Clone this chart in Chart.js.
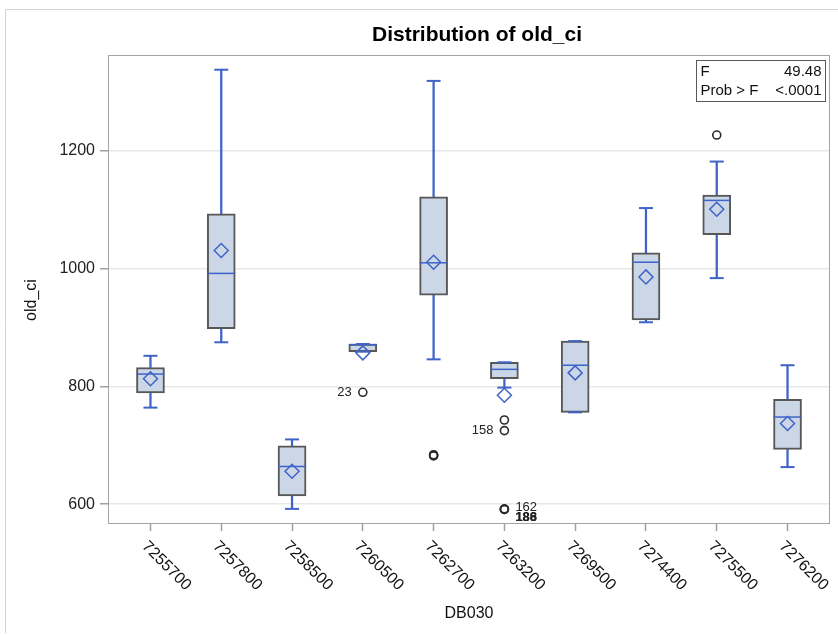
<!DOCTYPE html>
<html>
<head>
<meta charset="utf-8">
<title>Distribution of old_ci</title>
<script src="https://cdn.jsdelivr.net/npm/chart.js@4/dist/chart.umd.min.js"></script>
<style>
  html, body { margin: 0; padding: 0; background: #ffffff; }
  #wrap { position: relative; width: 838px; height: 635px; }
</style>
</head>
<body>
<div id="wrap"><canvas id="chart" width="838" height="635"></canvas></div>
<script>
// DB030 groups and the five-number summaries of old_ci per group
const categories  = ['7255700', '7257800', '7258500', '7260500', '7262700', '7263200', '7269500', '7274400', '7275500', '7276200'];
const whiskerLow  = [764, 875, 592, 859, 846, 798, 756, 909, 984, 663];
const q1          = [789, 898, 614, 859, 955, 813, 756, 913, 1058, 693];
const median      = [821, 992, 664, 871, 1010, 829, 836, 1011, 1116, 748];
const q3          = [832, 1093, 699, 872, 1122, 841, 877, 1027, 1125, 778];
const whiskerHigh = [852, 1338, 710, 872, 1319, 841, 877, 1103, 1182, 836];
const means       = [813, 1031, 656, 857, 1011, 785, 823, 986, 1101, 737];

// Outliers: group index, value, observation id ('' = unlabeled)
const outlierGroup = [3, 4, 4, 4, 5, 5, 5, 5, 5, 8];
const outlierValue = [790, 684, 683, 682, 743, 725, 592, 591, 591, 1227];
const outlierId    = ['23', '', '', '', '', '158', '162', '186', '188', ''];

const yTicks = [600, 800, 1000, 1200];

// ANOVA inset
const statNames  = ['F', 'Prob > F'];
const statValues = ['49.48', '<.0001'];

const titleText  = 'Distribution of old_ci';
const xAxisTitle = 'DB030';
const yAxisTitle = 'old_ci';

const BLUE = '#3f63c8';
const FONT = "'Liberation Sans', Arial, Helvetica, sans-serif";
const idx = categories.map((_, i) => i);
const pts = arr => arr.map((v, i) => ({ x: i, y: v }));

// Frame, plot border, title, inset table, rotated category labels, outlier ids
const decorations = {
  id: 'decorations',
  beforeDraw(chart) {
    const ctx = chart.ctx;
    ctx.save();
    ctx.strokeStyle = '#d2d2d2';
    ctx.lineWidth = 1;
    ctx.beginPath();
    ctx.moveTo(5.5, 633);
    ctx.lineTo(5.5, 9.5);
    ctx.lineTo(chart.width, 9.5);
    ctx.stroke();
    ctx.restore();
  },
  afterDraw(chart) {
    const ctx = chart.ctx;
    const a = chart.chartArea;
    const xs = chart.scales.x;
    ctx.save();

    // plot-area border
    ctx.strokeStyle = '#a3a3a3';
    ctx.lineWidth = 1;
    ctx.strokeRect(Math.round(a.left) + 0.5, Math.round(a.top) + 0.5,
                   Math.round(a.right - a.left) - 1, Math.round(a.bottom - a.top));

    // title
    ctx.fillStyle = '#000';
    ctx.font = 'bold 21px ' + FONT;
    ctx.textAlign = 'center';
    ctx.textBaseline = 'middle';
    ctx.fillText(titleText, 477, 35);

    // y-axis title
    ctx.save();
    ctx.translate(32, 300);
    ctx.rotate(-Math.PI / 2);
    ctx.font = '16px ' + FONT;
    ctx.fillStyle = '#111';
    ctx.fillText(yAxisTitle, 0, 0);
    ctx.restore();

    // inset table
    const bw = 129, bh = 41;
    const bx = Math.round(a.right) - 4.5 - bw, by = Math.round(a.top) + 5.5;
    ctx.fillStyle = '#fff';
    ctx.fillRect(bx, by, bw, bh);
    ctx.strokeStyle = '#5a5a5a';
    ctx.strokeRect(bx, by, bw, bh);
    ctx.font = '15px ' + FONT;
    ctx.fillStyle = '#111';
    statNames.forEach((n, k) => {
      const ty = by + 11 + k * 19;
      ctx.textAlign = 'left';
      ctx.fillText(n, bx + 4, ty);
      ctx.textAlign = 'right';
      ctx.fillText(statValues[k], bx + bw - 4, ty);
    });

    // rotated category labels
    ctx.font = '16px ' + FONT;
    ctx.fillStyle = '#111';
    ctx.textAlign = 'left';
    ctx.textBaseline = 'middle';
    categories.forEach((c, i) => {
      const px = xs.getPixelForValue(i);
      ctx.save();
      ctx.translate(px - 6, a.bottom + 21);
      ctx.rotate(Math.PI / 4);
      ctx.fillText(c, 0, 0);
      ctx.restore();
    });

    // outlier ids
    const meta = chart.getDatasetMeta(chart.data.datasets.length - 1);
    ctx.fillStyle = '#222';
    let lowCount = 0;
    meta.data.forEach((pt, k) => {
      const id = outlierId[k];
      if (!id) return;
      if (outlierValue[k] < 620) {
        ctx.textAlign = 'left';
        ctx.font = (lowCount ? 'bold ' : '') + '13px ' + FONT;
        ctx.fillText(id, pt.x + 11, pt.y + (lowCount ? 8 : -1));
        lowCount++;
      } else {
        ctx.textAlign = 'right';
        ctx.font = '13px ' + FONT;
        ctx.fillText(id, pt.x - 11, pt.y);
      }
    });
    ctx.restore();
  }
};

new Chart(document.getElementById('chart'), {
  type: 'bar',
  data: {
    datasets: [
      { type: 'bar', label: 'lower whisker', data: idx.map(i => ({ x: i, y: [whiskerLow[i], q1[i]] })),
        backgroundColor: BLUE, barThickness: 1.6, grouped: false, order: 6 },
      { type: 'bar', label: 'upper whisker', data: idx.map(i => ({ x: i, y: [q3[i], whiskerHigh[i]] })),
        backgroundColor: BLUE, barThickness: 1.6, grouped: false, order: 6 },
      { type: 'bar', label: 'box', data: idx.map(i => ({ x: i, y: [q1[i], q3[i]] })),
        backgroundColor: '#cbd6e6', borderColor: '#575757', borderWidth: 2, borderSkipped: false,
        barThickness: 28, grouped: false, order: 5 },
      { type: 'scatter', label: 'median', data: pts(median), pointStyle: 'line', pointRadius: 14,
        borderColor: BLUE, borderWidth: 1.5, order: 4 },
      { type: 'scatter', label: 'whisker caps', data: [...pts(whiskerLow), ...pts(whiskerHigh)],
        pointStyle: 'line', pointRadius: 7, borderColor: BLUE, borderWidth: 2, order: 3 },
      { type: 'scatter', label: 'mean', data: pts(means), pointStyle: 'rectRot', pointRadius: 7,
        borderColor: BLUE, borderWidth: 1.5, backgroundColor: 'rgba(0,0,0,0)', order: 2 },
      { type: 'scatter', label: 'outliers', data: outlierValue.map((v, k) => ({ x: outlierGroup[k], y: v })),
        pointStyle: 'circle', pointRadius: 4, borderColor: '#2b2b2b', borderWidth: 1.6,
        backgroundColor: 'rgba(0,0,0,0)', order: 1 }
    ]
  },
  options: {
    responsive: false,
    animation: false,
    events: [],
    layout: { autoPadding: false, padding: { top: 55, right: 8, bottom: 0, left: 0 } },
    plugins: { legend: { display: false }, tooltip: { enabled: false }, title: { display: false } },
    scales: {
      x: {
        type: 'linear',
        min: -0.6,
        max: 9.6,
        offset: false,
        afterBuildTicks: s => { s.ticks = idx.map(v => ({ value: v })); },
        afterFit: s => { s.height = 112; },
        ticks: { display: false },
        grid: { offset: false, drawOnChartArea: false, drawTicks: true, tickLength: 8, tickColor: '#a0a0a0', tickWidth: 1.5 },
        border: { display: false },
        title: { display: true, text: xAxisTitle, color: '#111',
                 font: { family: FONT, size: 16, lineHeight: 1.2 }, padding: { top: 0, bottom: 12 } }
      },
      y: {
        type: 'linear',
        min: 568,
        max: 1363,
        afterBuildTicks: s => { s.ticks = yTicks.map(v => ({ value: v })); },
        afterFit: s => { s.width = 108; },
        ticks: { color: '#222', padding: 5, font: { family: FONT, size: 16 }, callback: v => String(v) },
        grid: { color: '#e8e8e8', lineWidth: 1.5, tickLength: 8, tickColor: '#a0a0a0', tickWidth: 1.5 },
        border: { display: false }
      }
    }
  },
  plugins: [decorations]
});
</script>
</body>
</html>
